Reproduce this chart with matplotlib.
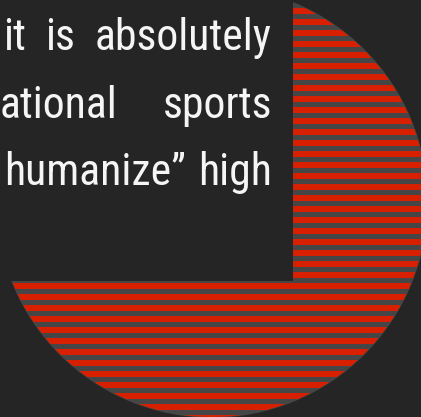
import matplotlib.pyplot as plt
import numpy as np
from matplotlib.patches import Rectangle

# Data
slices = [1.0]
text_lines = [["it", "is", "absolutely"],
              ["ational", "sports"],
              ["humanize\u201d", "high"]]

W, H = 421, 417
bg = '#252525'
gray = '#464646'
red = '#d82000'

fig = plt.figure(figsize=(W / 100, H / 100), dpi=100, facecolor=bg)
ax = fig.add_axes([0, 0, 1, 1])
ax.set_facecolor(bg)

# Circle (single slice pie)
cx, cy, r = 212, H - 202, 215
wedges, _ = ax.pie(slices, radius=r, center=(cx, cy), colors=[gray],
                   wedgeprops=dict(edgecolor=gray, linewidth=1))

# Red stripes clipped to the circle
period, thick = 11, 5.7
tops = np.arange(8.3 - 2 * period, H + period, period)
bars = ax.barh(H - tops - thick / 2, W + 40, height=thick, left=-20,
               color=red, linewidth=0, zorder=2)
for b in bars:
    b.set_clip_path(wedges[0])

# Text box covering the top-left part
ax.add_patch(Rectangle((-10, H - 281), 293 + 10, 281 + 10,
                       facecolor=bg, edgecolor='none', zorder=3))

ax.set_xlim(0, W)
ax.set_ylim(0, H)
ax.set_aspect('equal')
ax.axis('off')

# Justified text
font = dict(family=['Liberation Sans Narrow', 'Roboto Condensed',
                    'Archivo Narrow', 'DejaVu Sans'],
            size=31.5, color='#f5f5f5')
lefts = [3, 0, 4]
baselines = [50, 118, 185]
right = 272
renderer = fig.canvas.get_renderer()
for words, x0, yb in zip(text_lines, lefts, baselines):
    objs = [ax.text(0, H - yb, w, va='baseline', ha='left', zorder=4, **font)
            for w in words]
    widths = [o.get_window_extent(renderer).width for o in objs]
    gap = (right - x0 - sum(widths)) / (len(words) - 1)
    x = x0
    for o, w in zip(objs, widths):
        o.set_x(x)
        x += w + gap

fig.savefig('out.png', dpi=100, facecolor=bg)
